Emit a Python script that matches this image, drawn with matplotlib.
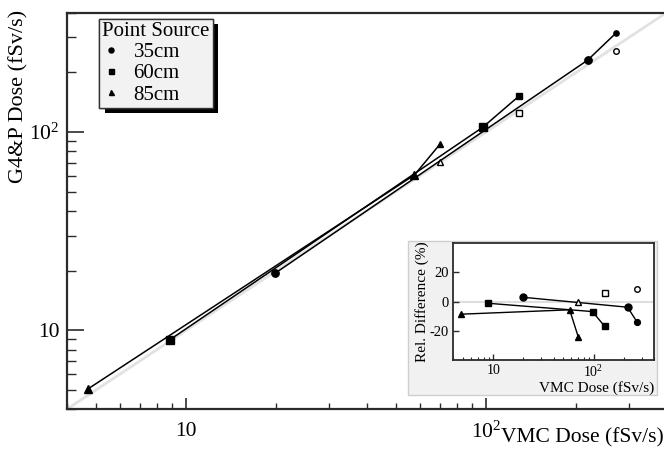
import matplotlib
matplotlib.use("Agg")
import matplotlib.pyplot as plt
import matplotlib.patheffects as pe
from matplotlib.ticker import LogLocator, NullFormatter, FuncFormatter, FixedLocator
from matplotlib.lines import Line2D
from matplotlib.patches import Rectangle

plt.rcParams['font.family'] = ['Liberation Serif', 'DejaVu Serif']
plt.rcParams['mathtext.fontset'] = 'custom'
plt.rcParams['mathtext.rm'] = 'Liberation Serif'
plt.rcParams['axes.unicode_minus'] = False

# source distances
labels = ["35cm", "60cm", "85cm"]
markers = ["o", "s", "^"]

# VMC dose vs G4&P dose (fSv/s), three points per distance
vmc = [[19.8, 218, 271], [8.84, 97.5, 129], [4.72, 57.7, 70.3]]
g4p = [[19.4, 230, 315], [8.98, 105.6, 152], [5.08, 60.7, 87.0]]
# open markers
vmc_open = [271, 129, 70.3]
g4p_open = [255, 124, 70.3]

# relative difference (%) for the inset
rel = [[3.0, -3.8, -14.0], [-1.1, -6.8, -17.0], [-8.6, -5.6, -24.2]]
rel_open = [8.4, 5.7, -0.4]

dose_lim = [4, 400]
rel_lim = [-40, 40]

dark = '#2b2b2b'

fig = plt.figure(figsize=(6.64, 4.5), dpi=100)
ax = fig.add_axes([0.1005, 0.0904, 0.9035, 0.8818])

ax.set_xscale('log')
ax.set_yscale('log')
ax.plot(dose_lim, dose_lim, color='#e2e2e2', lw=2, zorder=1)

for i in range(3):
    ax.plot(vmc[i], g4p[i], '-', color='k', lw=1.1, zorder=2)
    ax.plot(vmc[i][:2], g4p[i][:2], ls='none', marker=markers[i], color='k', ms=5.3, zorder=3)
    ax.plot(vmc[i][2:], g4p[i][2:], ls='none', marker=markers[i], color='k', ms=3.8, zorder=3)
    ax.plot(vmc_open[i], g4p_open[i], ls='none', marker=markers[i], mfc='white', mec='k',
            mew=1.0, ms=4.0, zorder=3)

ax.set_xlim(dose_lim)
ax.set_ylim(dose_lim)

fmt = FuncFormatter(lambda v, p: '10' if abs(v - 10) < 1e-6 else
                    (r'$\mathregular{10^{2}}$' if abs(v - 100) < 1e-6 else ''))
for axis in (ax.xaxis, ax.yaxis):
    axis.set_major_locator(FixedLocator([10, 100]))
    axis.set_minor_locator(LogLocator(base=10, subs=range(2, 10)))
    axis.set_major_formatter(fmt)
    axis.set_minor_formatter(NullFormatter())

ax.tick_params(axis='x', which='major', direction='in', length=8, width=1.2, color=dark,
               labelsize=15.5, pad=9)
ax.tick_params(axis='x', which='minor', direction='in', length=4.5, width=1.0, color=dark)
ax.tick_params(axis='y', which='major', direction='in', length=12, width=1.2, color=dark,
               labelsize=15.5, pad=5)
ax.tick_params(axis='y', which='minor', direction='in', length=6.5, width=1.0, color=dark)

for s in ('left', 'bottom', 'top'):
    ax.spines[s].set_color(dark)
    ax.spines[s].set_linewidth(1.6)
ax.spines['right'].set_visible(False)

ax.set_xlabel('VMC Dose (fSv/s)', fontsize=15.5)
ax.xaxis.set_label_coords(0.9955, -0.072)
ax.xaxis.label.set_ha('right')
ax.xaxis.label.set_va('center')

ax.set_ylabel('G4&P Dose (fSv/s)', fontsize=16)
ax.yaxis.set_label_coords(-0.08, 1.006)
ax.yaxis.label.set_ha('right')
ax.yaxis.label.set_va('center')

handles = [Line2D([], [], ls='none', marker=m, color='k', ms=3.6) for m in markers]
leg = ax.legend(handles, labels, title='Point Source', loc='upper left',
                bbox_to_anchor=(0.054, 0.984), borderaxespad=0, fontsize=15,
                title_fontsize=15, frameon=True, fancybox=False, edgecolor='#333333',
                facecolor='#f2f2f2', framealpha=1, handlelength=0.8, handletextpad=0.7,
                borderpad=0.15, labelspacing=0.08, alignment='left')
leg.get_frame().set_linewidth(1.0)
leg.get_frame().set_path_effects([
    pe.withSimplePatchShadow(offset=(4, -4), shadow_rgbFace='black', alpha=1),
    pe.Normal()])

# inset background panel
fig.patches.append(Rectangle((0.614, 0.1222), 0.3755, 0.3422, transform=fig.transFigure,
                             facecolor='#f1f1f1', edgecolor='#cfcfcf', lw=1.0, zorder=1))

ins = fig.add_axes([0.6827, 0.2, 0.3023, 0.2593], zorder=2)
ins.set_xscale('log')
ins.axhline(0, color='#dedede', lw=1.5, zorder=1)
for i in range(3):
    ins.plot(vmc[i], rel[i], '-', color='k', lw=1.0, zorder=2)
    ins.plot(vmc[i][:2], rel[i][:2], ls='none', marker=markers[i], color='k', ms=5.0, zorder=3)
    ins.plot(vmc[i][2:], rel[i][2:], ls='none', marker=markers[i], color='k', ms=4.2, zorder=3)
    ins.plot(vmc_open[i], rel_open[i], ls='none', marker=markers[i], mfc='white', mec='k',
             mew=1.0, ms=4.0, zorder=3)
ins.set_xlim(dose_lim)
ins.set_ylim(rel_lim)
ins.xaxis.set_major_locator(FixedLocator([10, 100]))
ins.xaxis.set_minor_locator(LogLocator(base=10, subs=range(2, 10)))
ins.xaxis.set_major_formatter(fmt)
ins.xaxis.set_minor_formatter(NullFormatter())
ins.yaxis.set_major_locator(FixedLocator([-20, 0, 20]))
ins.tick_params(axis='x', which='major', direction='in', length=4, width=1.0, color=dark,
                labelsize=10, pad=3)
ins.tick_params(axis='x', which='minor', direction='in', length=2.5, width=0.8, color=dark)
ins.tick_params(axis='y', which='major', direction='in', length=4, width=1.0, color=dark,
                labelsize=10.5, pad=3)
for s in ins.spines.values():
    s.set_color(dark)
    s.set_linewidth(1.3)

ins.set_xlabel('VMC Dose (fSv/s)', fontsize=11)
ins.xaxis.set_label_coords(1.0, -0.24)
ins.xaxis.label.set_ha('right')
ins.xaxis.label.set_va('center')
ins.set_ylabel('Rel. Difference (%)', fontsize=11)
ins.yaxis.set_label_coords(-0.156, 0.5)
ins.yaxis.label.set_va('center')

fig.savefig('out.png', dpi=100)
